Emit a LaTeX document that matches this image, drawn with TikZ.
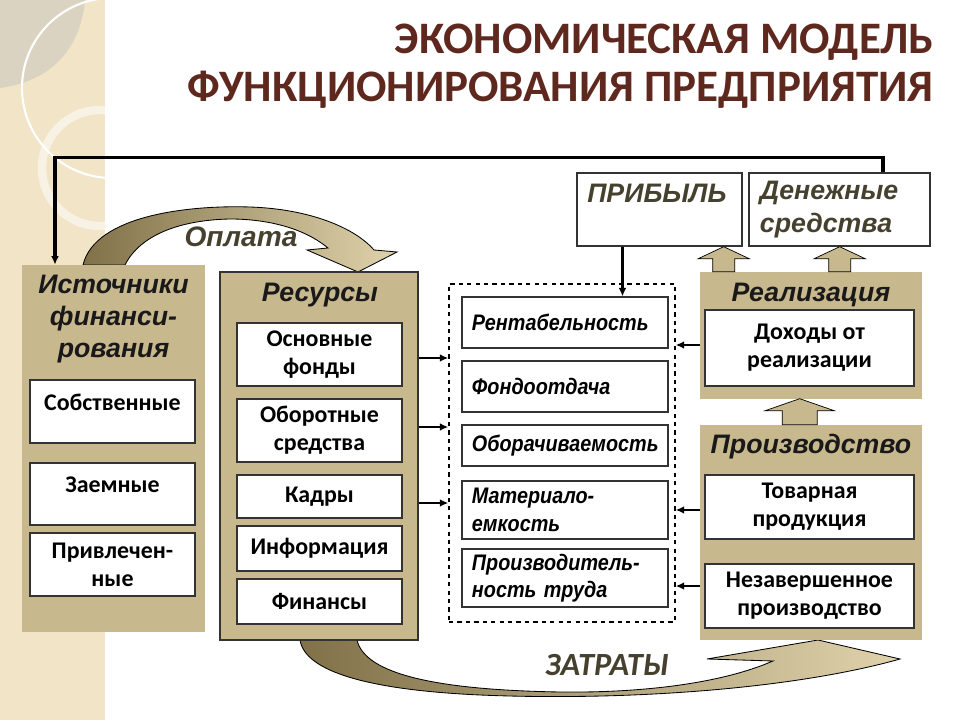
\documentclass[tikz,border=0pt]{standalone}
\usepackage{fontspec}
\setmainfont{Carlito}
\newfontfamily\arialfont{Liberation Sans}
\newfontfamily\narrowfont[FakeStretch=0.88]{Liberation Sans}
\usetikzlibrary{arrows.meta,calc,positioning}
\definecolor{tanbox}{RGB}{200,184,142}
\definecolor{tanD}{RGB}{128,113,72}
\definecolor{tanL}{RGB}{224,211,172}
\definecolor{stripc}{RGB}{241,228,199}
\definecolor{leafc}{RGB}{218,211,194}
\definecolor{titlec}{RGB}{94,40,30}
\definecolor{olivec}{RGB}{70,64,46}
\tikzset{
  panel/.style={fill=tanbox, inner sep=0pt},
  cell/.style={draw=black!80, line width=0.8pt, fill=white, inner sep=0pt, align=center,
    font=\fontsize{17}{20}\selectfont\bfseries},
  celltext/.style={inner sep=0pt, font=\fontsize{17}{20}\selectfont\bfseries},
  icell/.style={cell, align=left, inner xsep=0.25cm, text width=4.65cm,
    font=\narrowfont\fontsize{16}{19.5}\selectfont\bfseries\itshape},
  head/.style={inner sep=0pt, align=center, text=black!90,
    font=\arialfont\fontsize{19}{22.5}\selectfont\bfseries\itshape},
  ohead/.style={head, text=olivec},
  conn/.style={line width=1.6pt, -{Latex[length=6pt,width=5.5pt]}},
  blockup/.style={fill=tanbox, draw=black, line width=0.5pt},
  curvearr/.style={left color=tanD, right color=tanL, draw=black, line width=0.6pt}
}
\begin{document}
\begin{tikzpicture}[x=0.025cm, y=-0.025cm]
    \useasboundingbox (0,0) rectangle (960,720);

    \fill[stripc] (0,0) rectangle (105,720);
    \begin{scope}
        \clip (0,0) rectangle (105,720);
        \fill[leafc] (0,0) -- (85,0) .. controls (80,55) and (45,82) .. (0,88) -- cycle;
        \draw[white, line width=1.5pt] (112,88) circle [radius=2.25cm];
        \draw[white, opacity=0.55, line width=6pt] (100,168) circle [radius=1.45cm];
    \end{scope}

    \node[anchor=east, inner sep=0pt, text=titlec, font=\fontsize{32}{38}\selectfont\bfseries] (title1) at (934,42) {ЭКОНОМИЧЕСКАЯ МОДЕЛЬ};
    \node[anchor=east, inner sep=0pt, text=titlec, font=\fontsize{32}{38}\selectfont\bfseries] (title2) at (934,90) {ФУНКЦИОНИРОВАНИЯ ПРЕДПРИЯТИЯ};

    \shadedraw[curvearr] (83,265) .. controls (95,215) and (190,205) .. (250,207)
        .. controls (310,209) and (355,228) .. (374,250) -- (397,252) -- (358,272) -- (307,250) -- (328,248)
        .. controls (300,225) and (260,219) .. (230,219) .. controls (180,220) and (140,235) .. (125,265) -- cycle;
    \shadedraw[curvearr] (300,640) .. controls (305,672) and (370,690) .. (480,695)
        .. controls (620,701) and (790,690) .. (900,659) -- (818,640) -- (707,659) -- (773,661)
        .. controls (720,684) and (640,693) .. (560,692) .. controls (440,690) and (365,675) .. (357,640) -- cycle;
    \node[ohead, font=\arialfont\fontsize{20}{24}\selectfont\bfseries\itshape] (oplata) at (241,237) {Оплата};
    \node[ohead, font=\fontsize{23}{26}\selectfont\bfseries\itshape] (zatraty) at (607,665) {ЗАТРАТЫ};

    \node[panel, minimum width=4.575cm, minimum height=9.175cm] (ist) at (113.5,448.5) {};
    \node[head] (isttitle) at (113.5,319) {Источники\\финанси-\\рования};
    \node[cell, minimum width=4.125cm, minimum height=1.575cm] (sobst) at (112.5,411.5) {};
    \node[celltext] (sobsttxt) at (112.5,402) {Собственные};
    \node[cell, minimum width=4.125cm, minimum height=1.55cm] (zaem) at (112.5,494) {};
    \node[celltext] (zaemtxt) at (112.5,485) {Заемные};
    \node[cell, minimum width=4.125cm, minimum height=1.575cm] (privl) at (112.5,564.5) {Привлечен-\\ные};

    \node[panel, draw=black!80, line width=0.8pt, minimum width=4.95cm, minimum height=9.2cm] (res) at (319,456) {};
    \node[head] (restitle) at (320,295) {Ресурсы};
    \node[cell, minimum width=4.125cm, minimum height=1.575cm] (osnov) at (319.5,354.5) {Основные\\фонды};
    \node[cell, minimum width=4.125cm, minimum height=1.575cm] (oborot) at (319.5,430.5) {Оборотные\\средства};
    \node[cell, minimum width=4.125cm, minimum height=1.075cm] (kadry) at (319.5,496.5) {Кадры};
    \node[cell, minimum width=4.125cm, minimum height=1.125cm] (inform) at (319.5,548.5) {Информация};
    \node[cell, minimum width=4.125cm, minimum height=1.125cm] (finans) at (319.5,601.5) {Финансы};

    \node[draw, dashed, line width=1pt, inner sep=0pt, minimum width=5.65cm, minimum height=8.45cm] (pokaz) at (562,453) {};
    \node[icell, minimum height=1.275cm] (rent) at (565,322.5) {Рентабельность};
    \node[icell, minimum height=1.275cm] (fondo) at (565,386.5) {Фондоотдача};
    \node[icell, minimum height=1.025cm] (oborach) at (565,445.5) {Оборачиваемость};
    \node[icell, minimum height=1.45cm] (matem) at (565,510) {Материало-\\емкость};
    \node[icell, minimum height=1.45cm] (proizv) at (565,578) {Производитель-\\ность труда};

    \node[draw=black!80, line width=0.8pt, fill=white, minimum width=4.125cm, minimum height=1.825cm] (pribyl) at (659.5,209.5) {};
    \node[ohead, anchor=west] (pribyltxt) at (587,193) {ПРИБЫЛЬ};
    \node[draw=black!80, line width=0.8pt, fill=white, inner sep=0pt, inner xsep=0.275cm, text width=3.975cm, minimum height=1.825cm, align=left, text=olivec,
        font=\arialfont\fontsize{19}{23}\selectfont\bfseries\itshape] (dengi) at (839.5,209.5) {Денежные\\средства};

    \node[panel, minimum width=5.55cm, minimum height=3.175cm] (real) at (811,335.5) {};
    \node[head] (realtitle) at (811,295) {Реализация};
    \node[cell, minimum width=5.225cm, minimum height=1.9cm] (dohod) at (809.5,348) {Доходы от\\реализации};

    \node[panel, minimum width=5.55cm, minimum height=5.375cm] (prod) at (811,532.5) {};
    \node[head] (prodtitle) at (811,447) {Производство};
    \node[cell, minimum width=5.225cm, minimum height=1.6cm] (tovar) at (809.5,507) {Товарная\\продукция};
    \node[cell, minimum width=5.225cm, minimum height=1.6cm] (nezav) at (809.5,596) {Незавершенное\\производство};

    \draw[blockup] ($(real.north west)+(24,0)$) ++(-11,0) -- ++(0,-13) -- ++(-14.5,0) -- ++(25.5,-12) -- ++(25.5,12) -- ++(-14.5,0) -- ++(0,13) -- cycle;
    \draw[blockup] ($(real.north west)+(140,0)$) ++(-11,0) -- ++(0,-13) -- ++(-14.5,0) -- ++(25.5,-12) -- ++(25.5,12) -- ++(-14.5,0) -- ++(0,13) -- cycle;
    \draw[blockup] ($(prod.north west)+(100,0)$) ++(-17.5,0) -- ++(0,-14) -- ++(-17,0) -- ++(34.5,-12) -- ++(34.5,12) -- ++(-17,0) -- ++(0,14) -- cycle;

    \draw[conn] ($(osnov.east -| res.east)+(0,3.5)$) -- ($(osnov.east -| pokaz.west)+(0,3.5)$);
    \draw[conn] ($(oborot.east -| res.east)+(0,-3.5)$) -- ($(oborot.east -| pokaz.west)+(0,-3.5)$);
    \draw[conn] ($(kadry.east -| res.east)+(0,6.5)$) -- ($(kadry.east -| pokaz.west)+(0,6.5)$);
    \draw[conn] ($(dohod.west -| real.west)+(0,-3)$) -- ($(dohod.west -| pokaz.east)+(0,-3)$);
    \draw[conn] ($(tovar.west -| prod.west)+(0,3)$) -- ($(tovar.west -| pokaz.east)+(0,3)$);
    \draw[conn] ($(nezav.west -| prod.west)+(0,-10)$) -- ($(nezav.west -| pokaz.east)+(0,-10)$);
    \draw[conn] ([xshift=-0.925cm]pribyl.south) -- ([xshift=-0.925cm]pribyl.south |- rent.north);
    \draw[conn, line width=2.2pt] ([xshift=1.0875cm]dengi.north) -- ++(0,-15) -| ([xshift=-1.4625cm]ist.north);
\end{tikzpicture}
\end{document}
